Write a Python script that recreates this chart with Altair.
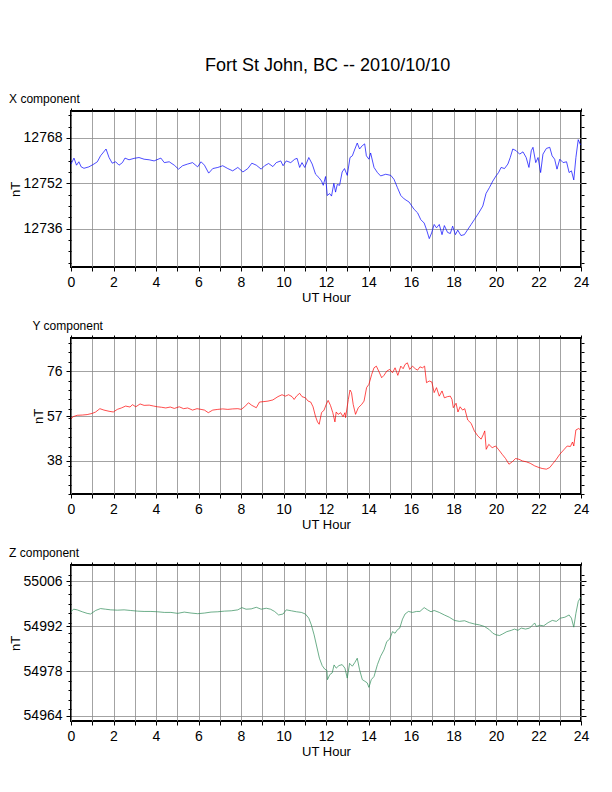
import altair as alt
import pandas as pd

FONT = "Liberation Sans"

# ---- X component (nT) ----
x_hours = [0.0, 0.14, 0.26, 0.37, 0.48, 0.61, 0.84, 1.08, 1.24, 1.39, 1.65, 1.79, 1.94,
           2.10, 2.26, 2.42, 2.54, 2.73, 2.97, 3.20, 3.44, 3.68, 3.91, 4.23, 4.39, 4.62,
           4.86, 5.06, 5.25, 5.49, 5.72, 5.96, 6.12, 6.28, 6.48, 6.67, 6.91, 7.14, 7.38,
           7.61, 7.85, 8.09, 8.32, 8.51, 8.72, 8.95, 9.11, 9.30, 9.50, 9.66, 9.87, 9.98,
           10.13, 10.34, 10.53, 10.64, 10.76, 10.87, 11.00, 11.19, 11.35, 11.51, 11.67,
           11.79, 11.87, 11.98, 12.06, 12.17, 12.26, 12.37, 12.45, 12.53, 12.64, 12.76,
           12.87, 13.00, 13.13, 13.24, 13.36, 13.47, 13.58, 13.71, 13.82, 13.90, 14.02,
           14.10, 14.26, 14.42, 14.57, 14.81, 15.05, 15.20, 15.36, 15.52, 15.68, 15.91,
           16.15, 16.31, 16.46, 16.62, 16.73, 16.86, 16.97, 17.09, 17.20, 17.33, 17.46,
           17.57, 17.72, 17.85, 17.96, 18.09, 18.20, 18.35, 18.51, 18.67, 18.83, 18.98,
           19.19, 19.38, 19.53, 19.69, 19.85, 20.00, 20.12, 20.24, 20.40, 20.56, 20.67,
           20.79, 20.95, 21.11, 21.27, 21.42, 21.55, 21.66, 21.74, 21.87, 21.98, 22.10,
           22.21, 22.37, 22.53, 22.64, 22.76, 22.87, 23.00, 23.16, 23.32, 23.44, 23.55,
           23.66, 23.76, 23.87, 23.98]
x_values = [12758.8, 12760.9, 12758.4, 12759.6, 12757.8, 12757.3, 12757.8, 12758.8, 12759.6,
            12761.7, 12764.1, 12761.1, 12759.1, 12759.6, 12758.4, 12759.3, 12760.9, 12760.3,
            12760.8, 12761.1, 12760.5, 12760.3, 12759.9, 12760.9, 12759.3, 12759.6, 12758.4,
            12757.0, 12758.2, 12758.8, 12759.3, 12757.8, 12759.6, 12758.4, 12755.6, 12757.2,
            12757.6, 12758.2, 12757.2, 12756.4, 12757.6, 12756.0, 12757.2, 12759.1, 12758.4,
            12757.0, 12758.2, 12759.0, 12757.9, 12759.3, 12759.9, 12758.2, 12759.9, 12759.3,
            12760.5, 12760.8, 12757.6, 12759.3, 12757.6, 12761.1, 12758.8, 12755.2, 12754.0,
            12752.8, 12751.3, 12754.4, 12747.7, 12748.4, 12747.5, 12752.0, 12748.9, 12751.6,
            12751.3, 12756.0, 12757.2, 12754.8, 12761.1, 12761.7, 12764.1, 12766.2, 12764.1,
            12765.3, 12765.9, 12761.7, 12760.5, 12762.7, 12757.6, 12755.8, 12754.6, 12755.2,
            12754.8, 12753.4, 12750.5, 12747.7, 12746.5, 12745.4, 12742.8, 12741.6, 12739.2,
            12738.0, 12735.7, 12732.5, 12734.5, 12737.5, 12736.3, 12737.5, 12733.9, 12737.1,
            12734.7, 12734.3, 12736.9, 12733.9, 12735.5, 12733.6, 12733.9, 12735.7, 12737.5,
            12739.2, 12741.6, 12744.0, 12748.4, 12750.5, 12752.8, 12754.6, 12755.8, 12757.6,
            12757.2, 12758.8, 12761.1, 12764.1, 12763.5, 12762.3, 12763.1, 12761.1, 12757.6,
            12763.5, 12764.7, 12759.3, 12761.1, 12755.8, 12762.3, 12764.3, 12764.7, 12761.7,
            12760.5, 12757.0, 12760.5, 12759.3, 12759.6, 12755.8, 12756.4, 12753.2, 12761.1,
            12767.4, 12765.5]

# ---- Y component (nT) ----
y_hours = [0.0, 0.10, 0.29, 0.53, 0.76, 1.00, 1.16, 1.36, 1.55, 1.79, 1.99, 2.18, 2.37,
           2.57, 2.78, 2.89, 3.05, 3.25, 3.44, 3.68, 3.89, 4.07, 4.26, 4.46, 4.67, 4.86,
           5.09, 5.30, 5.49, 5.72, 5.93, 6.12, 6.28, 6.46, 6.67, 6.91, 7.14, 7.38, 7.61,
           7.85, 8.01, 8.17, 8.35, 8.51, 8.72, 8.87, 9.08, 9.27, 9.50, 9.74, 9.93, 10.09,
           10.24, 10.40, 10.50, 10.61, 10.76, 10.87, 11.03, 11.16, 11.28, 11.39, 11.50,
           11.60, 11.68, 11.79, 11.91, 12.01, 12.10, 12.21, 12.32, 12.42, 12.48, 12.57,
           12.69, 12.80, 12.89, 12.92, 13.05, 13.13, 13.20, 13.28, 13.39, 13.52, 13.68,
           13.79, 13.91, 14.02, 14.15, 14.26, 14.37, 14.50, 14.62, 14.73, 14.86, 15.00,
           15.13, 15.25, 15.38, 15.52, 15.63, 15.72, 15.83, 15.94, 16.07, 16.20, 16.31,
           16.42, 16.54, 16.64, 16.73, 16.86, 16.98, 17.09, 17.20, 17.33, 17.46, 17.57,
           17.72, 17.85, 17.93, 17.99, 18.12, 18.21, 18.31, 18.43, 18.53, 18.67, 18.83,
           18.98, 19.14, 19.30, 19.41, 19.47, 19.54, 19.66, 19.82, 19.98, 20.13, 20.29,
           20.45, 20.61, 20.76, 20.92, 21.08, 21.24, 21.43, 21.61, 21.82, 22.02, 22.17,
           22.37, 22.53, 22.69, 22.84, 23.00, 23.19, 23.35, 23.50, 23.60, 23.66, 23.76,
           23.89, 23.98]
y_values = [55.9, 56.7, 57.3, 57.4, 57.6, 58.1, 58.7, 60.1, 59.5, 59.0, 58.7, 59.8, 60.4,
            61.2, 60.8, 61.8, 60.9, 62.1, 61.5, 61.6, 61.2, 60.9, 60.7, 60.4, 60.8, 60.2,
            60.9, 60.1, 60.4, 59.5, 60.1, 59.8, 59.5, 58.4, 59.5, 59.8, 60.0, 59.8, 60.0,
            60.1, 59.8, 60.9, 62.6, 61.5, 60.5, 62.9, 63.1, 63.3, 63.8, 65.2, 66.0, 65.4,
            66.0, 65.2, 64.0, 65.4, 66.6, 65.2, 64.7, 63.3, 62.9, 60.9, 57.0, 54.5, 53.5,
            58.4, 59.5, 61.9, 63.6, 61.5, 58.4, 54.5, 58.7, 57.7, 58.4, 56.7, 58.4, 56.3,
            64.0, 68.0, 66.9, 61.9, 57.7, 60.5, 61.9, 63.3, 69.0, 70.4, 74.6, 77.4, 78.1,
            75.6, 73.2, 74.2, 76.0, 76.7, 75.3, 77.4, 74.2, 78.1, 77.0, 78.8, 79.5, 76.7,
            78.1, 77.0, 76.4, 77.8, 77.4, 78.1, 71.1, 71.8, 71.4, 66.9, 69.0, 65.4, 67.6,
            64.7, 65.2, 65.4, 64.0, 60.5, 62.4, 58.7, 60.9, 59.5, 60.1, 55.3, 53.9, 50.7,
            48.6, 47.2, 49.3, 50.7, 42.9, 45.0, 43.6, 44.3, 42.7, 40.8, 39.0, 36.6, 37.6,
            39.0, 38.7, 38.0, 37.6, 37.0, 35.9, 35.2, 34.8, 34.5, 35.2, 37.0, 38.7, 40.8,
            42.7, 44.3, 44.1, 46.0, 44.3, 51.1, 51.7, 51.1]

# ---- Z component (nT) ----
z_hours = [0.0, 0.13, 0.29, 0.53, 0.76, 0.92, 1.16, 1.39, 1.63, 1.87, 2.18, 2.50, 2.81,
           3.13, 3.44, 3.76, 4.07, 4.39, 4.70, 5.02, 5.33, 5.65, 5.96, 6.28, 6.59, 6.91,
           7.22, 7.54, 7.85, 8.04, 8.24, 8.48, 8.72, 8.95, 9.19, 9.39, 9.58, 9.77, 9.98,
           10.13, 10.37, 10.61, 10.84, 11.03, 11.19, 11.31, 11.44, 11.57, 11.69, 11.82,
           11.94, 12.04, 12.07, 12.18, 12.29, 12.38, 12.48, 12.61, 12.76, 12.89, 13.00,
           13.11, 13.24, 13.36, 13.47, 13.58, 13.71, 13.83, 13.94, 14.02, 14.13, 14.26,
           14.42, 14.57, 14.73, 14.86, 15.00, 15.13, 15.25, 15.36, 15.47, 15.60, 15.72,
           15.88, 16.07, 16.26, 16.42, 16.62, 16.78, 16.94, 17.09, 17.33, 17.57, 17.80,
           18.04, 18.28, 18.52, 18.75, 18.98, 19.22, 19.46, 19.69, 19.85, 20.00, 20.17,
           20.32, 20.51, 20.72, 20.87, 21.03, 21.19, 21.39, 21.58, 21.82, 21.90, 22.06,
           22.24, 22.45, 22.65, 22.84, 23.03, 23.24, 23.44, 23.55, 23.66, 23.76, 23.87,
           23.98]
z_values = [54996.6, 54997.3, 54997.1, 54996.5, 54996.0, 54995.8, 54996.9, 54997.5, 54997.3,
            54997.1, 54997.0, 54997.1, 54996.9, 54996.7, 54996.6, 54996.6, 54996.5, 54996.3,
            54996.3, 54996.0, 54996.4, 54996.1, 54995.9, 54996.1, 54996.4, 54996.5, 54996.7,
            54996.8, 54997.1, 54997.8, 54997.3, 54997.4, 54997.9, 54997.3, 54997.6, 54997.3,
            54996.6, 54995.5, 54995.8, 54997.1, 54996.8, 54996.5, 54996.3, 54995.8, 54994.5,
            54992.4, 54989.3, 54985.5, 54982.0, 54979.7, 54978.6, 54978.2, 54975.3, 54976.9,
            54977.4, 54979.9, 54978.9, 54979.7, 54980.0, 54978.9, 54975.8, 54980.4, 54979.5,
            54980.7, 54982.0, 54978.4, 54975.3, 54974.8, 54974.3, 54972.9, 54975.3, 54976.3,
            54980.0, 54982.6, 54984.6, 54987.2, 54988.0, 54990.3, 54989.8, 54990.9, 54991.4,
            54994.2, 54995.8, 54996.6, 54996.3, 54996.6, 54996.6, 54997.8, 54997.1, 54996.5,
            54996.9, 54996.3, 54995.5, 54994.8, 54993.8, 54993.5, 54993.7, 54993.1, 54992.7,
            54992.4, 54991.9, 54990.9, 54989.8, 54989.3, 54989.1, 54989.6, 54990.3, 54990.7,
            54991.1, 54990.7, 54991.4, 54991.1, 54991.4, 54993.0, 54991.9, 54992.3, 54992.1,
            54993.1, 54993.8, 54993.5, 54994.5, 54994.8, 54995.5, 54994.5, 54991.7, 54996.0,
            54999.7, 55001.0]

# axis ticks
hour_ticks = [0, 1, 2, 3, 4, 5, 6, 7, 8, 9, 10, 11, 12, 13, 14, 15, 16, 17, 18, 19, 20,
              21, 22, 23, 24]
x_major = [12736, 12752, 12768]
x_minor = [12724, 12728, 12732, 12740, 12744, 12748, 12756, 12760, 12764, 12772, 12776]
y_major = [38, 57, 76]
y_minor = [24, 28, 32, 36, 40, 44, 48, 52, 56, 60, 64, 68, 72, 80, 84, 88]
z_major = [54964, 54978, 54992, 55006]
z_minor = [54966, 54969, 54972, 54975, 54981, 54984, 54987, 54990, 54993, 54996, 54999,
           55002, 55005, 55008]


def panel(hours, values, title, color, domain, major, minor):
    df = pd.DataFrame({"hour": hours, "value": values})
    ticks = sorted(major + minor)
    test = "indexof([" + ",".join(str(v) for v in major) + "], datum.value) >= 0"
    tick_size = {"condition": {"test": test, "value": 5}, "value": 3}

    xs = alt.Scale(domain=[0, 24], nice=False, zero=False)
    ys = alt.Scale(domain=domain, nice=False, zero=False)

    line = alt.Chart(df).mark_line(color=color, strokeWidth=0.7).encode(
        x=alt.X("hour:Q", scale=xs, axis=alt.Axis(
            orient="bottom", values=hour_ticks, title="UT Hour",
            labelExpr="datum.value % 2 === 0 ? datum.label : ''",
            tickSize=4, grid=True, titlePadding=2, labelFlush=False)),
        y=alt.Y("value:Q", scale=ys, axis=alt.Axis(
            orient="left", values=ticks, title="nT", format="d",
            labelExpr=test + " ? datum.label : ''",
            tickSize=tick_size, titlePadding=1, labelFlush=False,
            gridOpacity={"condition": {"test": test, "value": 1}, "value": 0})),
    )
    frame = alt.Chart(df).mark_line(strokeOpacity=0).encode(
        x=alt.X("hour:Q", scale=xs, axis=alt.Axis(
            orient="top", values=hour_ticks, title=None, labels=False,
            tickSize=3, grid=False)),
        y=alt.Y("value:Q", scale=ys, axis=alt.Axis(
            orient="right", values=ticks, title=None, labels=False,
            tickSize=tick_size, grid=False)),
    )
    return (
        alt.layer(line, frame)
        .resolve_axis(x="independent", y="independent")
        .properties(
            width=510, height=156,
            title=alt.TitleParams(title, anchor="start", fontSize=12,
                                  fontWeight="normal", font=FONT, offset=2),
        )
    )


chart = (
    alt.vconcat(
        panel(x_hours, x_values, "X component", "#0000ff", [12722.5, 12777.5], x_major, x_minor),
        panel(y_hours, y_values, "Y component", "#ff0000", [24, 90], y_major, y_minor),
        panel(z_hours, z_values, "Z component", "#2e8b57", [54962.4, 55011.1], z_major, z_minor),
        spacing=13,
    )
    .properties(
        title=alt.TitleParams("Fort St John, BC -- 2010/10/10", fontSize=18,
                              fontWeight="normal", font=FONT, anchor="start",
                              dx=197, offset=17),
        padding={"left": 0, "top": 48, "right": 10, "bottom": 10},
    )
    .configure_view(stroke="black", strokeWidth=2)
    .configure_axis(
        domain=False, labelFont=FONT, titleFont=FONT, labelFontSize=14,
        titleFontSize=13, titleFontWeight="normal", labelColor="black",
        titleColor="black", tickColor="black", tickWidth=1,
        gridColor="#8c8c8c", gridWidth=0.8, labelPadding=4,
    )
)

chart.save("out.html", embed_options={"renderer": "svg", "actions": False})
